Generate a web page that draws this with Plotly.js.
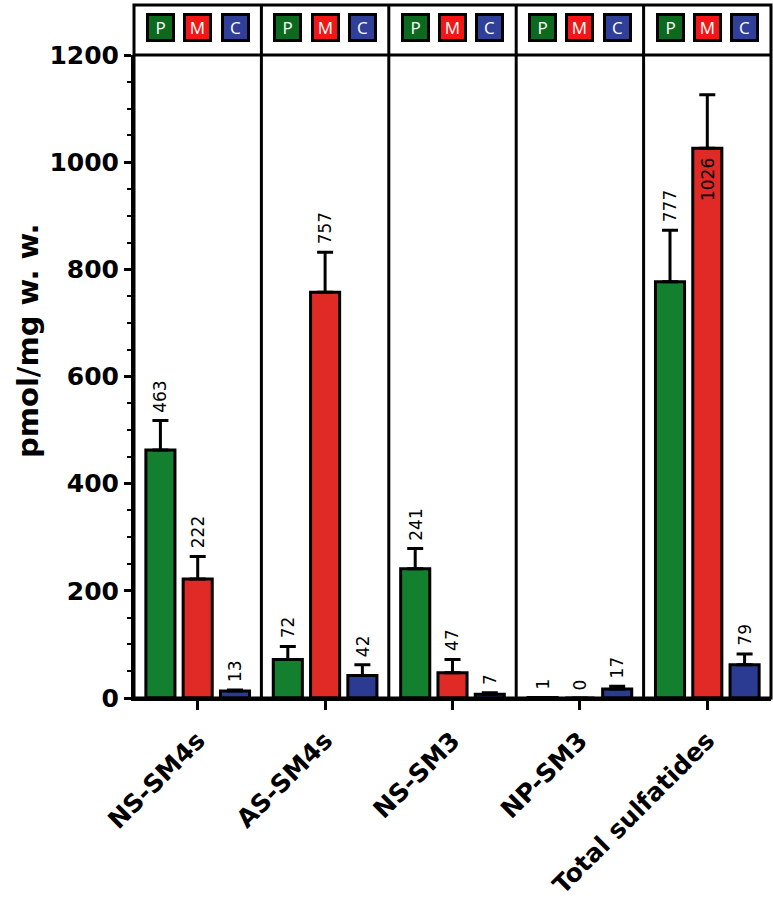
<!DOCTYPE html>
<html>
<head>
<meta charset="utf-8">
<script src="https://cdn.plot.ly/plotly-3.0.1.min.js"></script>
<style>
  html, body { margin: 0; padding: 0; background: #fff; }
  #chart { width: 773px; height: 903px; }
</style>
</head>
<body>
<div id="chart"></div>
<script>
// Categories and series
const categories = ['NS-SM4s', 'AS-SM4s', 'NS-SM3', 'NP-SM3', 'Total sulfatides'];
const seriesNames = ['P', 'M', 'C'];

const valuesP = [463, 72, 241, 1, 777];
const valuesM = [222, 757, 47, 0, 1026];
const valuesC = [13, 42, 7, 17, 62];

const errorsP = [55, 24, 38, 0, 96];
const errorsM = [42, 75, 25, 0, 100];
const errorsC = [2, 20, 3, 5, 20];

// printed numbers above the bars
const labelsP = ['463', '72', '241', '1', '777'];
const labelsM = ['222', '757', '47', '0', '1026'];
const labelsC = ['13', '42', '7', '17', '79'];

const barColors = ['#13802f', '#e02a26', '#2c3b92'];
const boxColors = ['#0b6a1e', '#f21616', '#303f98'];

const values = [valuesP, valuesM, valuesC];
const errors = [errorsP, errorsM, errorsC];
const labels = [labelsP, labelsM, labelsC];

// Layout geometry
const slotPx = 37.3;          // distance between bar centres in a group
const plotTopPx = 5, plotBottomPx = 698, axisTopPx = 55;
const plotH = plotBottomPx - plotTopPx;
const yDomainTop = (plotBottomPx - axisTopPx) / plotH;

const traces = seriesNames.map((name, i) => ({
    type: 'bar',
    name: name,
    x: categories,
    y: values[i],
    marker: { color: barColors[i], line: { color: '#000', width: 3 } },
    error_y: {
        type: 'data',
        symmetric: false,
        array: errors[i],
        arrayminus: errors[i].map(() => 0),
        color: '#000',
        thickness: 3,
        width: 8
    },
    hoverinfo: 'skip'
}));

const annotations = [];

// value labels
seriesNames.forEach((name, i) => {
    categories.forEach((cat, j) => {
        const v = values[i][j];
        const top = v + errors[i][j];
        const inside = top > 1100;
        annotations.push({
            x: cat, xref: 'x',
            y: inside ? v : top, yref: 'y',
            xshift: (i - 1) * slotPx,
            yshift: inside ? -8 : 6,
            text: labels[i][j],
            textangle: -90,
            showarrow: false,
            xanchor: 'center',
            yanchor: inside ? 'top' : 'bottom',
            font: { family: 'DejaVu Sans', size: 17, color: '#000' }
        });
    });
});

// P / M / C boxes in the header strip
categories.forEach(cat => {
    seriesNames.forEach((name, i) => {
        annotations.push({
            x: cat, xref: 'x',
            y: (plotBottomPx - 27) / plotH, yref: 'paper',
            xshift: (i - 1) * slotPx,
            text: name,
            showarrow: false,
            xanchor: 'center', yanchor: 'middle',
            width: 23, height: 23,
            bgcolor: boxColors[i],
            bordercolor: '#000',
            borderwidth: 3,
            borderpad: 0,
            font: { family: 'Open Sans', size: 17, color: '#fff' }
        });
    });
});

// y axis title
annotations.push({
    x: 0, xref: 'paper', xshift: -106,
    y: (plotBottomPx - 341) / plotH, yref: 'paper',
    text: 'pmol/mg w. w.',
    textangle: -90,
    showarrow: false,
    xanchor: 'center', yanchor: 'middle',
    font: { family: 'DejaVu Sans', size: 29, weight: 700, color: '#000' }
});

const shapes = [
    { type: 'rect', xref: 'paper', yref: 'paper', x0: 0, x1: 1, y0: 0, y1: 1,
      line: { color: '#000', width: 3 } },
    { type: 'line', xref: 'paper', yref: 'paper', x0: 0, x1: 1, y0: yDomainTop, y1: yDomainTop,
      line: { color: '#000', width: 3 } }
];
[0.5, 1.5, 2.5, 3.5].forEach(xb => {
    shapes.push({ type: 'line', xref: 'x', yref: 'paper', x0: xb, x1: xb, y0: 0, y1: 1,
                  line: { color: '#000', width: 3 } });
});

const layout = {
    width: 773,
    height: 903,
    margin: { l: 134, r: 2, t: plotTopPx, b: 903 - plotBottomPx },
    paper_bgcolor: '#fff',
    plot_bgcolor: '#fff',
    showlegend: false,
    barmode: 'group',
    bargap: 0.122,
    bargroupgap: 0.22,
    xaxis: {
        type: 'category',
        range: [-0.5, 4.5],
        showline: true, linecolor: '#000', linewidth: 3,
        ticks: 'outside', ticklen: 9, tickwidth: 3, tickcolor: '#000',
        tickangle: -45,
        ticklabelstandoff: 6,
        tickfont: { family: 'DejaVu Sans', size: 25, weight: 700, color: '#000' },
        showgrid: false, zeroline: false
    },
    yaxis: {
        domain: [0, yDomainTop],
        range: [0, 1200],
        tickvals: [0, 200, 400, 600, 800, 1000, 1200],
        showline: true, linecolor: '#000', linewidth: 3,
        ticks: 'outside', ticklen: 7, tickwidth: 3, tickcolor: '#000',
        minor: { dtick: 50, ticks: 'outside', ticklen: 4, tickwidth: 2, tickcolor: '#000' },
        tickfont: { family: 'DejaVu Sans', size: 25, weight: 700, color: '#000' },
        showgrid: false, zeroline: false
    },
    shapes: shapes,
    annotations: annotations
};

Plotly.newPlot('chart', traces, layout, { displayModeBar: false, staticPlot: true });
</script>
</body>
</html>
